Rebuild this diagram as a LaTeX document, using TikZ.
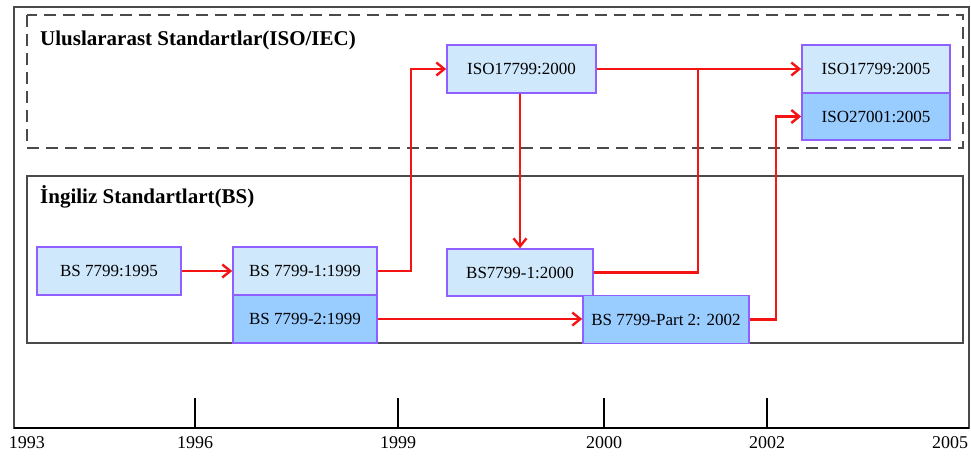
\documentclass[tikz,border=0pt]{standalone}
\usepackage{fontspec}
\setmainfont{Liberation Serif}
\usetikzlibrary{arrows.meta}
\definecolor{lightbox}{HTML}{CFE8FB}
\definecolor{darkbox}{HTML}{99CCFF}
\definecolor{boxborder}{HTML}{8F5FFF}
\definecolor{frame}{HTML}{4A4A4A}
\definecolor{conn}{HTML}{F41414}
\begin{document}
\begin{tikzpicture}[x=1pt,y=-1pt,
  stdbox/.style={draw=boxborder,line width=1.6pt,fill=lightbox,minimum height=48pt,inner sep=0pt,font=\fontsize{17}{19}\selectfont},
  stdboxdark/.style={stdbox,fill=darkbox},
  conline/.style={draw=conn,line width=2.4pt},
  arr/.style={conline,-{Straight Barb[length=8pt,width=13pt]}},
  grouptitle/.style={anchor=west,font=\bfseries\fontsize{21}{23}\selectfont,inner sep=0pt},
  year/.style={anchor=north,font=\fontsize{18}{20}\selectfont,inner sep=0pt},
  tick/.style={draw=black,line width=1.2pt}
]
\useasboundingbox (0,0) rectangle (971,456);
% outer frame
\draw[draw=frame,line width=2pt] (14,7) rectangle (969,428);
% international group (dashed)
\draw[draw=frame,line width=2pt,dash pattern=on 12pt off 7pt] (27,15) rectangle (963,148);
\node[grouptitle] (t1) at (40,40) {Uluslararast Standartlar(ISO/IEC)};
% british group
\draw[draw=frame,line width=2pt] (27,176) rectangle (963,343);
\node[grouptitle] (t2) at (40,197) {İngiliz Standartlart(BS)};

% coordinates of junctions
\coordinate (j1) at (698,69);

\node[stdbox,minimum width=144pt] (b1995) at (109,271) {BS 7799:1995};
\node[stdbox,minimum width=144pt] (b1999a) at (305,271) {BS 7799-1:1999};
\node[stdboxdark,minimum width=144pt] (b1999b) at (305,319) {BS 7799-2:1999};
\node[stdbox,minimum width=146pt,minimum height=47pt] (b2000) at (520,272.5) {BS7799-1:2000};
\node[stdboxdark,minimum width=166pt] (p2002) at (666,319.5) {BS 7799-Part 2: 2002};
\node[stdbox,minimum width=149pt] (iso2000) at (521.5,69) {ISO17799:2000};
\node[stdbox,minimum width=148pt] (iso2005) at (876,69) {ISO17799:2005};
\node[stdboxdark,minimum width=148pt,minimum height=47pt] (iso27001) at (876,116.5) {ISO27001:2005};

\draw[arr] (b1995) -- (b1999a);
\draw[arr] (b1999a.east) -- ++(33,0) |- (iso2000.west);
\draw[arr] (iso2000.south -| b2000.north) -- (b2000.north);
\draw[arr] (iso2000) -- (iso2005);
\draw[conline] (b2000.east) -| (j1);
\draw[arr] (b1999b) -- (p2002.west |- b1999b);
\draw[arr] (p2002.east) -- ++(26,0) |- (iso27001.west);

% timeline
\coordinate (ax0) at (14,428);
\coordinate (ax1) at (969,428);
\draw[draw=black,line width=1.6pt] (ax0) -- (ax1);
\foreach \x/\lab in {195/1996,398/1999,604/2000,767/2002}{
  \draw[tick] (\x,398) -- (\x,428);
  \node[year] (y\lab) at (\x,436) {\lab};
}
\node[year] (y1993) at (27,436) {1993};
\node[year] (y2005) at (950,436) {2005};
\end{tikzpicture}
\end{document}
